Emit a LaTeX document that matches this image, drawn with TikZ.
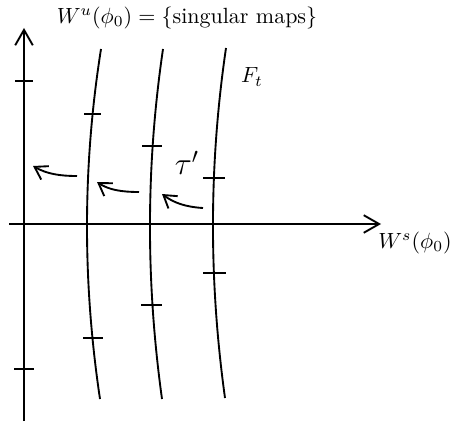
\documentclass[tikz,border=0pt]{standalone}
\usetikzlibrary{arrows.meta}
\begin{document}
\begin{tikzpicture}[x=0.4545pt,y=-0.4545pt,
  ln/.style={line width=0.85pt},
  tk/.style={line width=0.85pt},
  axarrow/.style={ln,-{Straight Barb[length=7pt,width=8pt,line width=0.85pt]}},
  flow/.style={ln,-{Straight Barb[length=5.5pt,width=7pt,line width=0.85pt]}},
  lbl/.style={inner sep=0pt}]
\useasboundingbox (0,0) rectangle (451,422);
% axes
\coordinate (vb) at (24,421);
\coordinate (vt) at (24,28);
\coordinate (hl) at (9,224);
\coordinate (hr) at (381,224);
\draw[axarrow] (vb) -- (vt);
\draw[axarrow] (hl) -- (hr);
% axis ticks
\draw[tk] (15,81) -- (33,81);
\draw[tk] (14,369) -- (34,369);
% leaves
\draw[ln] (101,49) .. controls (82.5,166) and (82.5,282) .. (100,399);
\draw[ln] (163,49) .. controls (145.8,166) and (145.8,282) .. (162,399);
\draw[ln] (226,48) .. controls (208.8,165) and (208.8,281) .. (225,398);
% ticks on leaves
\draw[tk] (84,114) -- (101,114);
\draw[tk] (83,338) -- (103,338);
\draw[tk] (142,146) -- (162,146);
\draw[tk] (141,305) -- (162,305);
\draw[tk] (203,178) -- (225,178);
\draw[tk] (203,273) -- (226,273);
% flow arrows
\coordinate (a1s) at (77,176);  \coordinate (a1e) at (33,166);
\coordinate (a2s) at (139,192); \coordinate (a2e) at (97,182);
\coordinate (a3s) at (203,208); \coordinate (a3e) at (162,194);
\draw[flow] (a1s) .. controls (60,176) and (47,174) .. (a1e);
\draw[flow] (a2s) .. controls (122,192) and (109,190) .. (a2e);
\draw[flow] (a3s) .. controls (186,207) and (174,203) .. (a3e);
% labels
\node[lbl] (wu) at (187,18) {$W^u(\phi_0)=\{\mbox{singular maps}\}$};
\node[lbl] (ft) at (252,77) {$F_t$};
\node[lbl] (tau) at (187,163) {\Large$\tau'$};
\node[lbl] (ws) at (415,243) {$W^s(\phi_0)$};
\end{tikzpicture}
\end{document}
